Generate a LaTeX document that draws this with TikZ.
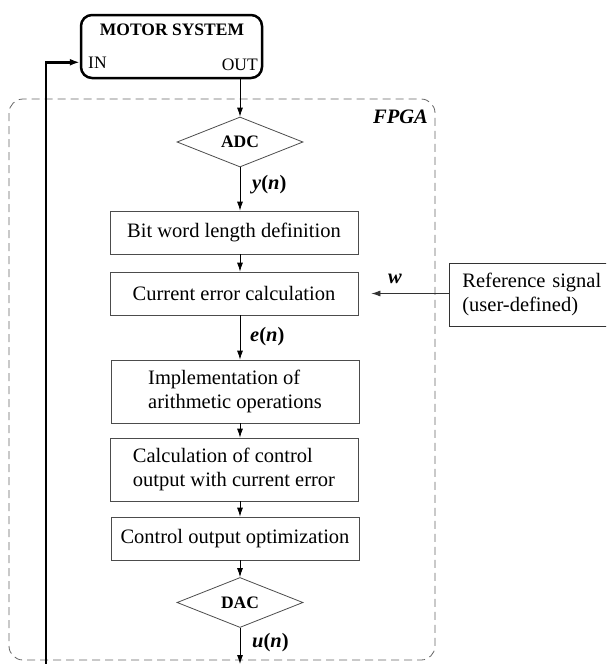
\documentclass[tikz,border=0pt]{standalone}
\usepackage{fontspec}
\setmainfont{Liberation Serif}
\usetikzlibrary{shapes.geometric,arrows.meta}
\begin{document}
\begin{tikzpicture}[x=1pt,y=-1pt,
  every node/.style={font=\fontsize{20.5}{24}\selectfont},
  box/.style={draw=black!70,line width=0.8pt,minimum width=248pt,inner sep=0pt},
  dia/.style={draw=black!70,line width=0.8pt,diamond,aspect=2.5,inner sep=0pt,minimum width=126pt,minimum height=50pt,font=\fontsize{17.5}{20}\selectfont\bfseries},
  arr/.style={-{Latex[length=9pt,width=6pt]},line width=0.8pt},
  sig/.style={font=\fontsize{20.5}{24}\selectfont\bfseries,inner sep=0pt},
  small/.style={font=\fontsize{17.5}{20}\selectfont,inner sep=0pt}]
\useasboundingbox (0,0) rectangle (606,664);
\clip (0,0) rectangle (606,664);
% FPGA frame
\draw[black!60,line width=0.8pt,dash pattern=on 8pt off 5pt,rounded corners=14pt] (9,99) rectangle (435,660);
\node[sig,anchor=base east] (fpga) at (428,123) {\itshape FPGA};
% motor system
\node[draw,line width=2.5pt,rounded corners=11pt,minimum width=181pt,minimum height=63pt] (motor) at (171.5,46.5) {};
\node[small,font=\fontsize{17.5}{20}\selectfont\bfseries,anchor=base] (mtitle) at (172,35) {MOTOR SYSTEM};
\node[small,anchor=base west] (in) at (88,68) {IN};
\node[small,anchor=base east] (out) at (258,70) {OUT};
% chain
\node[dia] (adc) at (240,142) {ADC};
\node[box,minimum height=43pt] (b1) at (234,232.5) {Bit word length definition};
\node[box,minimum height=43pt] (b2) at (234,293.5) {Current error calculation};
\node[box,minimum height=63pt,align=left] (b3) at (235,391.5) {Implementation of\\arithmetic operations};
\node[box,minimum height=63pt,align=left] (b4) at (234,469.5) {Calculation of control\\output with current error};
\node[box,minimum height=43pt] (b5) at (235,538.5) {Control output optimization};
\node[dia] (dac) at (240,602.5) {DAC};
\node[draw=black!80,line width=0.8pt,anchor=west,align=left,text width=150pt,inner xsep=13pt,minimum height=63pt] (ref) at (449,294.5) {Reference signal\\(user-defined)};
% labels
\node[sig,anchor=base west] (yn) at (252,189) {\textit{y}(\textit{n})};
\node[sig,anchor=base west] (en) at (250,341) {\textit{e}(\textit{n})};
\node[sig,anchor=base west] (un) at (252,647) {\textit{u}(\textit{n})};
\node[sig,anchor=base west] (w) at (388,283) {\textit{w}};
% connectors
\coordinate (outp) at (240,79);
\coordinate (uend) at (240,664);
\coordinate (fb) at (46,664);
\draw[arr] (outp) -- (adc.north);
\draw[arr] (adc.south) -- (adc.south |- b1.north);
\draw[arr] (adc.south |- b1.south) -- (adc.south |- b2.north);
\draw[arr] (adc.south |- b2.south) -- (adc.south |- b3.north);
\draw[arr] (adc.south |- b3.south) -- (adc.south |- b4.north);
\draw[arr] (adc.south |- b4.south) -- (adc.south |- b5.north);
\draw[arr] (adc.south |- b5.south) -- (dac.north);
\draw[arr] (dac.south) -- (uend);
\draw[arr,black!80,shorten >=13pt] (ref.west |- b2.east) -- (b2.east);
\draw[-{Latex[length=10pt,width=7pt]},line width=2.5pt] (fb) |- (motor.west |- in.west);
\end{tikzpicture}
\end{document}
